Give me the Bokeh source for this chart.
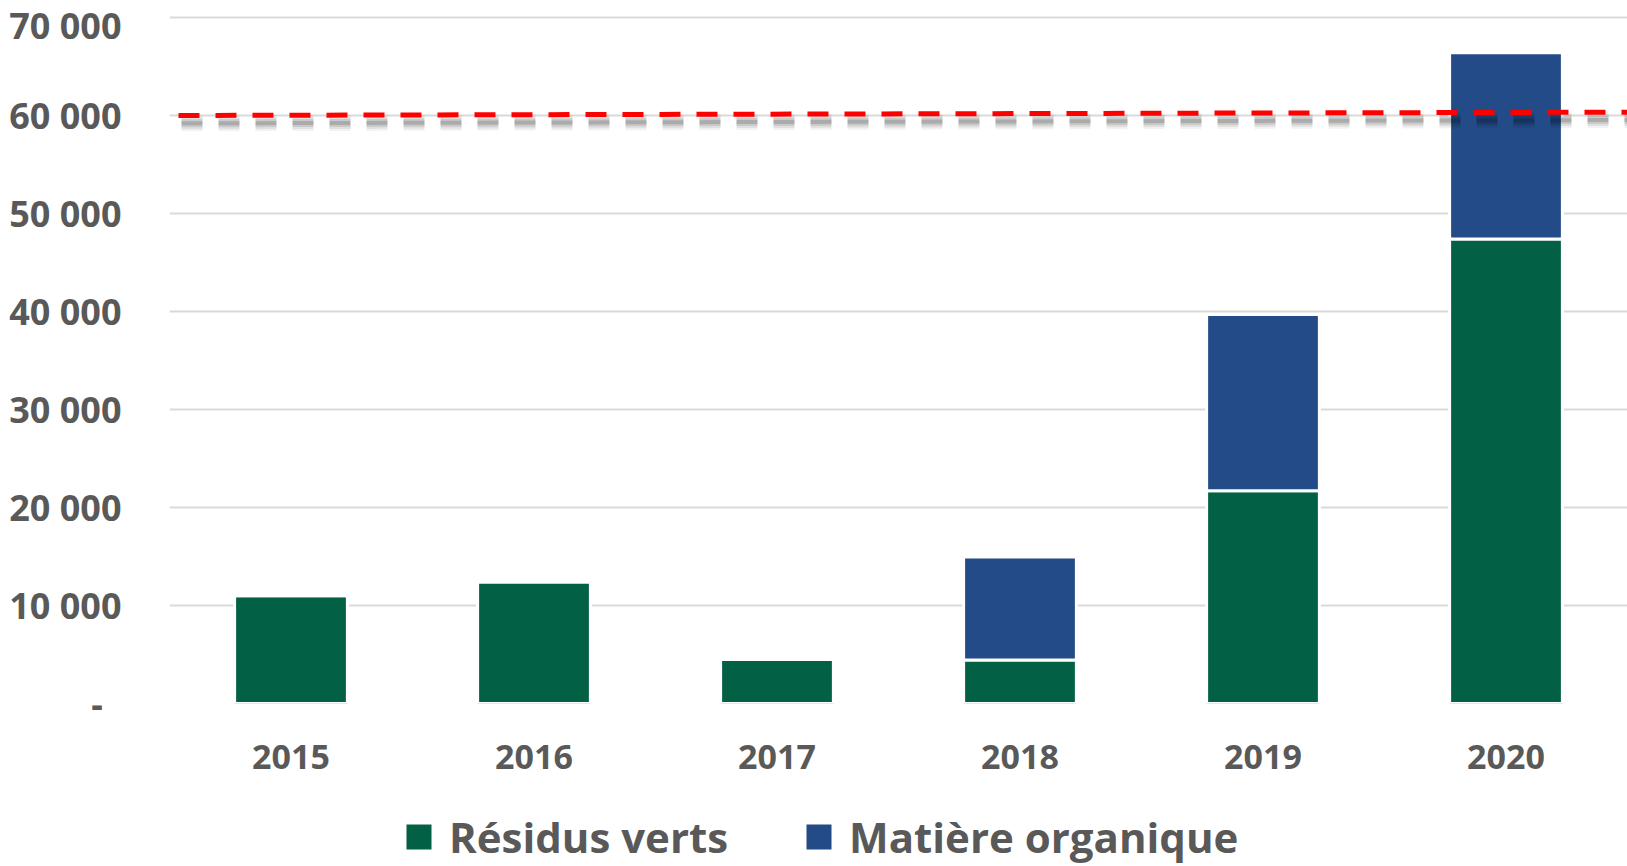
from bokeh.plotting import figure
from bokeh.layouts import column
from bokeh.models import ColumnDataSource, FixedTicker, Legend, LegendItem, Range1d
from bokeh.embed import file_html
from bokeh.resources import INLINE

# ---- data ----
years = ["2015", "2016", "2017", "2018", "2019", "2020"]
residus_verts = [11000, 12400, 4500, 4450, 21700, 47400]
matiere_organique = [0, 0, 0, 10500, 18000, 19000]
series_names = ["Résidus verts", "Matière organique"]
objectif_x = [-0.463, 5.5]
objectif_y = [60000, 60340]
y_ticks = [0, 10000, 20000, 30000, 40000, 50000, 60000, 70000]

GREEN = "#026045"
BLUE = "#234B87"
TEXT = "#595959"
FONT = "Open Sans"

xs = list(range(len(years)))
src = ColumnDataSource(dict(x=xs, res=residus_verts, mat=matiere_organique))

p = figure(width=1627, height=807, output_backend="svg", toolbar_location=None,
           x_range=Range1d(-0.5, 5.5), y_range=Range1d(0, 71735))
p.min_border_left = 169
p.min_border_right = 0
p.min_border_top = 0
p.min_border_bottom = 104
p.outline_line_color = None
p.background_fill_color = "white"
p.border_fill_color = "white"

r = p.vbar_stack(["res", "mat"], x="x", width=0.464, color=[GREEN, BLUE],
                 line_color="white", line_width=3, source=src)

# blurred shadow of target line
sx = [v + 3 / 243 for v in objectif_x]
sy = [v - 800 for v in objectif_y]
for w, a in [(16, 0.05), (12, 0.07), (8, 0.1), (4, 0.15)]:
    p.line(sx, sy, line_color="black", line_alpha=a, line_width=w, line_dash="21 16")
p.line(objectif_x, objectif_y, line_color="#FF0000", line_width=5, line_dash="21 16")

# axes
p.xaxis.ticker = FixedTicker(ticks=xs)
p.xaxis.major_label_overrides = {i: y for i, y in zip(xs, years)}
p.yaxis.ticker = FixedTicker(ticks=y_ticks)
p.yaxis.major_label_overrides = {t: ("-\u00a0\u00a0" if t == 0 else f"{t:,}".replace(",", " ")) for t in y_ticks}
for ax in (p.xaxis[0], p.yaxis[0]):
    ax.axis_line_color = None
    ax.major_tick_line_color = None
    ax.minor_tick_line_color = None
    ax.major_tick_out = 0
    ax.major_tick_in = 0
    ax.major_label_text_color = TEXT
    ax.major_label_text_font = FONT
    ax.major_label_text_font_style = "bold"
p.xaxis.major_label_text_font_size = "34px"
p.yaxis.major_label_text_font_size = "36px"
p.yaxis.major_label_standoff = 48
p.xaxis.major_label_standoff = 41

p.xgrid.grid_line_color = None
p.ygrid.grid_line_color = "#d9d9d9"
p.ygrid.grid_line_width = 2
p.ygrid.ticker = FixedTicker(ticks=y_ticks)

# legend strip below the chart
lg = figure(width=1627, height=59, output_backend="svg", toolbar_location=None,
            x_range=Range1d(0, 1), y_range=Range1d(0, 1),
            x_axis_type=None, y_axis_type=None)
lg.min_border_left = 0
lg.min_border_right = 0
lg.min_border_top = 0
lg.min_border_bottom = 0
lg.outline_line_color = None
lg.background_fill_color = "white"
lg.border_fill_color = "white"
items = []
for name, col in zip(series_names, [GREEN, BLUE]):
    # zero-height placeholder, only used for the legend swatch
    rr = lg.vbar(x=[0.5], top=[0], bottom=[0], width=0.001, fill_color=col,
                 line_color="white", line_width=3)
    items.append(LegendItem(label=name, renderers=[rr]))

legend = Legend(items=items, orientation="horizontal", location=(232, 1))
legend.label_text_font = FONT
legend.label_text_font_style = "bold"
legend.label_text_font_size = "42px"
legend.label_text_color = TEXT
legend.glyph_width = 35
legend.glyph_height = 35
legend.label_standoff = 13
legend.spacing = 73
legend.padding = 0
legend.margin = 0
legend.border_line_color = None
legend.background_fill_alpha = 0
lg.add_layout(legend, "center")

layout = column(p, lg, spacing=0)
open("out.html", "w").write(file_html(layout, INLINE))
